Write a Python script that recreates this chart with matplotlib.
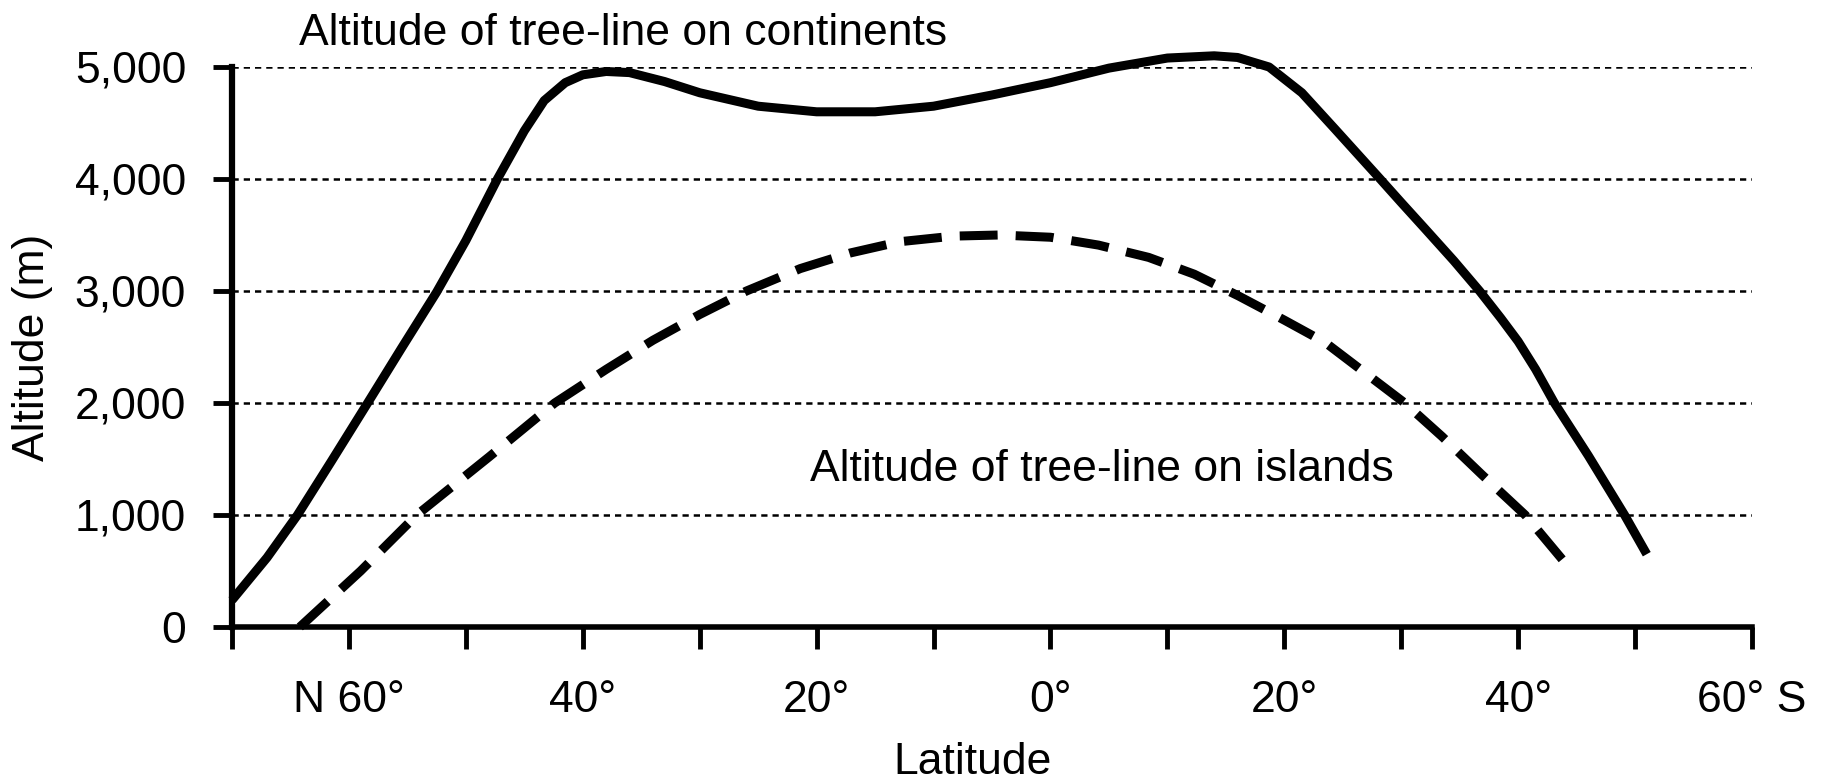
import matplotlib
matplotlib.use("Agg")
import matplotlib.pyplot as plt

plt.rcParams['font.family'] = ['Liberation Sans', 'DejaVu Sans']

# latitude in degrees, north positive, south negative
cont_lat = [70, 67, 64.4, 61.5, 58.4, 55.5, 52.5, 50, 47.3, 45, 43.3, 41.5, 40, 38,
            36, 33, 30, 25, 20, 15, 10, 5, 0, -5, -10, -14, -16, -18.7,
            -21.5, -24.3, -28.2, -30, -32, -34.5, -36.7, -38.5, -40, -41.5, -43.1,
            -46, -49.1, -51]
cont_alt = [240, 620, 1000, 1480, 2000, 2490, 2990, 3450, 4000, 4430, 4700, 4860, 4930, 4960,
            4950, 4870, 4770, 4650, 4600, 4600, 4650, 4750, 4860, 4990, 5080, 5100, 5085, 5000,
            4770, 4450, 4000, 3790, 3560, 3270, 3000, 2760, 2550, 2300, 2000,
            1530, 1000, 650]

isl_lat = [64.2, 59, 54.2, 48, 42.4, 38, 34, 30, 26, 21.4, 17.1, 12.9, 8.3, 4.4,
           0, -4.1, -8.4, -12.3, -16.1, -20, -23.5, -26.9, -30.3, -33.5, -36.9,
           -40.6, -43.8]
isl_alt = [0, 500, 1000, 1520, 2000, 2300, 2560, 2790, 3000, 3200, 3340, 3440, 3490, 3500,
           3480, 3410, 3300, 3150, 2955, 2740, 2540, 2270, 2000, 1700, 1360,
           1000, 600]

y_ticks = [0, 1000, 2000, 3000, 4000, 5000]
y_labels = ["0", "1,000", "2,000", "3,000", "4,000", "5,000"]
x_ticks = [70, 60, 50, 40, 30, 20, 10, 0, -10, -20, -30, -40, -50, -60]
x_labels = ["", "N 60°", "", "40°", "", "20°", "", "0°", "", "20°", "", "40°", "", "60° S"]

fs = 32

fig = plt.figure(figsize=(18.48, 7.83), dpi=100)
ax = fig.add_axes([232/1848, (783-627)/783, (1752-232)/1848, (627-67)/783])

ax.plot(cont_lat, cont_alt, color="black", lw=6.5, solid_joinstyle="round",
        solid_capstyle="butt", clip_on=False, zorder=3)
ax.plot(isl_lat, isl_alt, color="black", lw=6.5, linestyle=(0, (4.2, 2.0)),
        dash_capstyle="butt", clip_on=False, zorder=3)

ax.set_xlim(70, -60)
ax.set_ylim(0, 5000)

ax.set_yticks(y_ticks)
ax.set_yticklabels(y_labels)
ax.set_xticks(x_ticks)
ax.set_xticklabels(x_labels)

ax.tick_params(axis="y", direction="out", length=14, width=3.5, pad=19, labelsize=fs)
ax.tick_params(axis="x", direction="out", length=16, width=3.5, pad=22, labelsize=fs)

for s in ["top", "right"]:
    ax.spines[s].set_visible(False)
ax.spines["left"].set_linewidth(4.5)
ax.spines["bottom"].set_linewidth(4)

ax.yaxis.grid(True, color="black", linestyle=(0, (2.5, 2)), lw=1.8)
ax.set_axisbelow(True)

ax.set_ylabel("Altitude (m)", fontsize=fs)
ax.yaxis.set_label_coords(-0.118, 0.5)
ax.set_xlabel("Latitude", fontsize=fs)
ax.xaxis.set_label_coords(0.487, -0.205)

ax.text(64.3, 5196, "Altitude of tree-line on continents", fontsize=fs,
        ha="left", va="baseline", clip_on=False)
ax.text(20.6, 1300, "Altitude of tree-line on islands", fontsize=fs,
        ha="left", va="baseline")

fig.savefig("out.png", dpi=100, facecolor="white")
